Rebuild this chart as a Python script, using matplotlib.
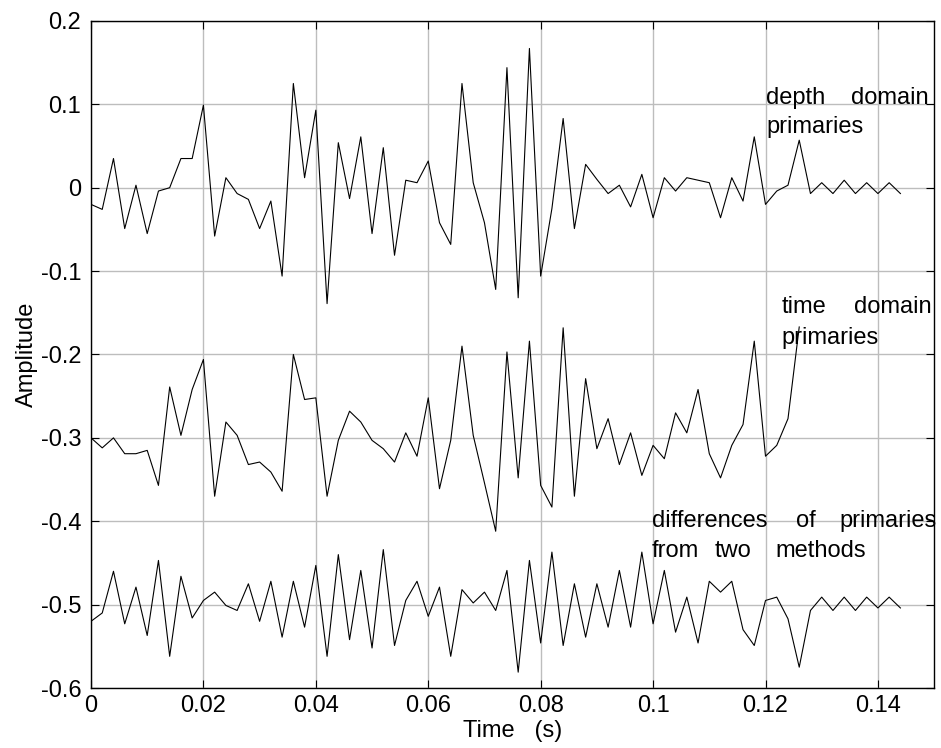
import numpy as np
import matplotlib
matplotlib.use("Agg")
import matplotlib.pyplot as plt

plt.rcParams['font.family'] = ['Liberation Sans', 'DejaVu Sans']

dt = 0.002

# depth domain primaries (73 samples, 0 .. 0.144 s)
depth = [-0.020, -0.026, 0.035, -0.049, 0.003, -0.055, -0.004, 0.000, 0.035, 0.035,
         0.099, -0.058, 0.012, -0.007, -0.014, -0.049, -0.016, -0.106, 0.125, 0.012,
         0.093, -0.139, 0.054, -0.013, 0.061, -0.055, 0.048, -0.081, 0.009, 0.006,
         0.032, -0.042, -0.068, 0.125, 0.006, -0.042, -0.122, 0.144, -0.132, 0.167,
         -0.106, -0.025, 0.083, -0.049, 0.028, 0.010, -0.007, 0.003, -0.023, 0.016,
         -0.036, 0.012, -0.004, 0.012, 0.009, 0.006, -0.036, 0.012, -0.016, 0.061,
         -0.020, -0.004, 0.003, 0.057, -0.007, 0.006, -0.007, 0.009, -0.007, 0.006,
         -0.007, 0.006, -0.007]

# time domain primaries (64 samples, 0 .. 0.126 s)
timedom = [-0.300, -0.312, -0.300, -0.319, -0.319, -0.315, -0.357, -0.239, -0.297, -0.242,
           -0.206, -0.370, -0.281, -0.297, -0.332, -0.329, -0.341, -0.364, -0.200, -0.254,
           -0.252, -0.370, -0.303, -0.268, -0.281, -0.303, -0.313, -0.329, -0.294, -0.322,
           -0.252, -0.361, -0.303, -0.190, -0.297, -0.354, -0.412, -0.197, -0.348, -0.184,
           -0.357, -0.383, -0.168, -0.370, -0.229, -0.313, -0.277, -0.332, -0.294, -0.345,
           -0.309, -0.325, -0.270, -0.294, -0.242, -0.319, -0.348, -0.309, -0.284, -0.184,
           -0.322, -0.309, -0.277, -0.167]

# differences of primaries (73 samples)
diffs = [-0.520, -0.510, -0.460, -0.523, -0.479, -0.537, -0.447, -0.562, -0.466, -0.516,
         -0.495, -0.485, -0.501, -0.507, -0.475, -0.520, -0.472, -0.539, -0.472, -0.527,
         -0.453, -0.562, -0.440, -0.542, -0.459, -0.552, -0.434, -0.549, -0.495, -0.472,
         -0.514, -0.479, -0.562, -0.482, -0.498, -0.485, -0.507, -0.459, -0.581, -0.447,
         -0.546, -0.437, -0.549, -0.475, -0.539, -0.475, -0.527, -0.459, -0.527, -0.437,
         -0.523, -0.459, -0.533, -0.491, -0.546, -0.472, -0.485, -0.472, -0.530, -0.549,
         -0.495, -0.491, -0.517, -0.575, -0.507, -0.491, -0.507, -0.491, -0.507, -0.491,
         -0.504, -0.491, -0.504]

xticks = [0, 0.02, 0.04, 0.06, 0.08, 0.1, 0.12, 0.14]
xticklabels = ['0', '0.02', '0.04', '0.06', '0.08', '0.1', '0.12', '0.14']
yticks = [-0.6, -0.5, -0.4, -0.3, -0.2, -0.1, 0, 0.1, 0.2]
yticklabels = ['-0.6', '-0.5', '-0.4', '-0.3', '-0.2', '-0.1', '0', '0.1', '0.2']

fig = plt.figure(figsize=(9.41, 7.48), dpi=100)
ax = fig.add_axes([0.0967, 0.0802, 0.896, 0.8918])

for s in [depth, timedom, diffs]:
    t = np.arange(len(s)) * dt
    ax.plot(t, s, color='black', lw=0.8, zorder=3)

ax.set_xlim(0, 0.15)
ax.set_ylim(-0.6, 0.2)
ax.set_xticks(xticks)
ax.set_xticklabels(xticklabels)
ax.set_yticks(yticks)
ax.set_yticklabels(yticklabels)
ax.grid(True, color='#bdbdbd', lw=1, ls='-')
ax.set_axisbelow(True)
ax.tick_params(direction='in', length=6, width=0.8, top=True, right=True,
               labelsize=17, colors='black')
ax.tick_params(axis='y', pad=7)
ax.tick_params(axis='x', pad=5)
for sp in ax.spines.values():
    sp.set_linewidth(1)

ax.set_xlabel('Time   (s)', fontsize=17, labelpad=2)
ax.set_ylabel('Amplitude', fontsize=17, labelpad=2)

# curve labels, one word at a time (spread out like the original)
def words(items):
    for w, x, y in items:
        ax.text(x, y, w, fontsize=17, va='baseline', ha='left', zorder=2.5)

words([('depth', 0.1201, 0.1004), ('domain', 0.1352, 0.1004),
       ('primaries', 0.1201, 0.0657)])
words([('time', 0.1229, -0.1502), ('domain', 0.1357, -0.1502),
       ('primaries', 0.1229, -0.1874)])
words([('differences', 0.0998, -0.4069), ('of', 0.1254, -0.4069),
       ('primaries', 0.1331, -0.4069),
       ('from', 0.0998, -0.4429), ('two', 0.1109, -0.4429),
       ('methods', 0.1217, -0.4429)])

fig.savefig('out.png', dpi=100)
